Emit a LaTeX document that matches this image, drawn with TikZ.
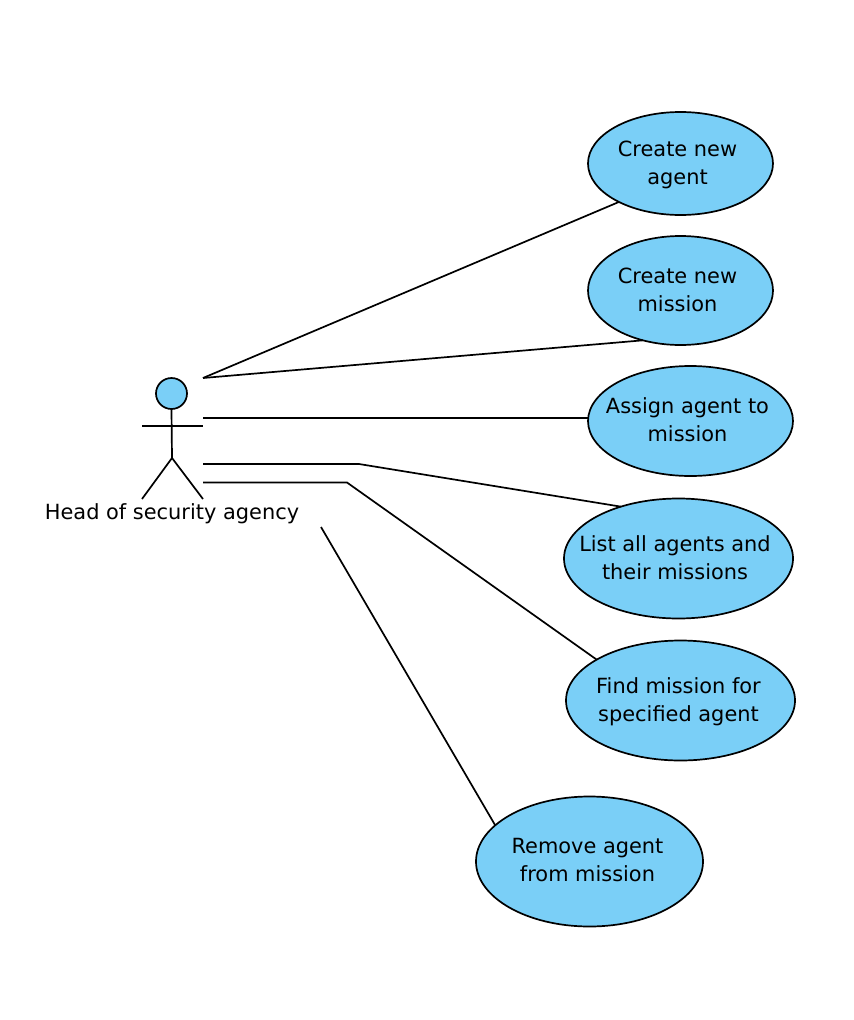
\documentclass[tikz,border=0pt]{standalone}
\usepackage{fontspec}
\setmainfont{DejaVu Sans}
\usetikzlibrary{shapes.geometric}
\definecolor{uc}{RGB}{122,207,247}
\tikzset{
  usecase/.style={draw=black,fill=uc,line width=1.7pt,ellipse,inner sep=0pt,outer sep=0pt},
  uctext/.style={align=center,inner sep=0pt,font=\fontsize{20.9}{28}\selectfont},
  conn/.style={draw=black,line width=1.7pt},
  actorline/.style={draw=black,line width=1.7pt},
}
\begin{document}
\begin{tikzpicture}[x=1pt,y=-1pt]
\useasboundingbox (0,0) rectangle (854,1020);
\node[usecase,minimum width=185pt,minimum height=103pt] (a) at (680.5,163.5) {};
\node[uctext] (at) at (677.5,164.5) {Create new\\agent};
\node[usecase,minimum width=185pt,minimum height=109pt] (b) at (680.5,290.5) {};
\node[uctext] (bt) at (677.5,290) {Create new\\mission};
\node[usecase,minimum width=205pt,minimum height=110pt] (c) at (690.5,421) {};
\node[uctext] (ct) at (687.5,420) {Assign agent to\\mission};
\node[usecase,minimum width=229pt,minimum height=120pt] (d) at (678.5,558.5) {};
\node[uctext] (dt) at (675,558) {List all agents and\\their missions};
\node[usecase,minimum width=229pt,minimum height=120pt] (e) at (680.5,700.5) {};
\node[uctext] (et) at (678.5,702) {Find mission for\\specified agent};
\node[usecase,minimum width=227pt,minimum height=130pt] (f) at (589.5,861.5) {};
\node[uctext] (ft) at (587.5,860) {Remove agent\\from mission};
% actor
\node[circle,draw=black,fill=uc,line width=1.7pt,minimum size=31pt,inner sep=0pt] (head) at (171.5,393.5) {};
\coordinate (hip) at (172,458);
\coordinate (armL) at (142,426);
\coordinate (armR) at (203,426);
\coordinate (footL) at (142,499);
\coordinate (footR) at (203,499);
\draw[actorline] (head.south) -- (hip);
\draw[actorline] (armL) -- (armR);
\draw[actorline] (footL) -- (hip) -- (footR);
\node[uctext] (lab) at (172,514) {Head of security agency};
% connectors
\coordinate (s1) at (203,378);
\coordinate (s3) at (203,418);
\coordinate (s4) at (203,464);
\coordinate (k4) at (359,464);
\coordinate (s5) at (203,482.5);
\coordinate (k5) at (347,482.5);
\coordinate (s6) at (321,527);
\draw[conn] (s1) -- (a.212.5);
\draw[conn] (s1) -- (b.233.6);
\draw[conn] (s3) -- (s3 -| c.west);
\draw[conn] (s4) -- (k4) -- (d.138.6);
\draw[conn] (s5) -- (k5) -- (e.154.7);
\draw[conn] (s6) -- (f.159.1);
\end{tikzpicture}
\end{document}
